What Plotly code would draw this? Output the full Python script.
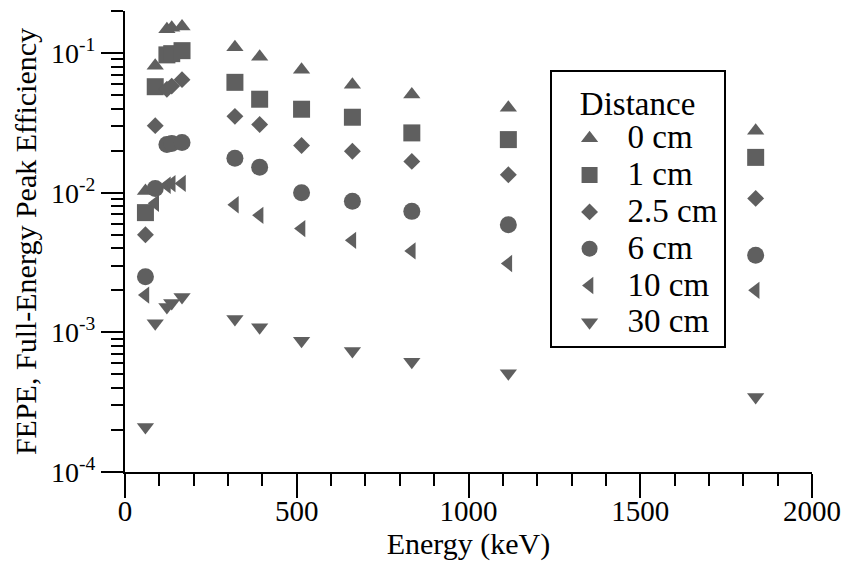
import plotly.graph_objects as go

# Energies (keV)
energy = [59.5, 88, 122, 136, 166, 320, 392, 514, 662, 835, 1116, 1836]

# Full-energy peak efficiency for each source-detector distance
fepe_0cm = [0.0103, 0.081, 0.148, 0.152, 0.155, 0.110, 0.094, 0.076, 0.0594, 0.0504, 0.0405, 0.0278]
fepe_1cm = [0.0072, 0.0574, 0.097, 0.099, 0.104, 0.0617, 0.0467, 0.0396, 0.0347, 0.0268, 0.0240, 0.0179]
fepe_2_5cm = [0.0050, 0.0302, 0.055, 0.058, 0.0645, 0.0352, 0.0308, 0.0218, 0.0198, 0.01675, 0.01345, 0.0091]
fepe_6cm = [0.0025, 0.0107, 0.0221, 0.0225, 0.0229, 0.01766, 0.01524, 0.0100, 0.00867, 0.00735, 0.0059, 0.00356]
fepe_10cm = [0.00185, 0.0084, 0.0113, 0.0116, 0.01165, 0.0082, 0.00689, 0.00553, 0.00456, 0.00383, 0.00311, 0.0020]
fepe_30cm = [0.00021, 0.00116, 0.00152, 0.00162, 0.00179, 0.001245, 0.001086, 0.00087, 0.000734, 0.000616, 0.000509, 0.000345]

series_names = ["0 cm", "1 cm", "2.5 cm", "6 cm", "10 cm", "30 cm"]
series_values = [fepe_0cm, fepe_1cm, fepe_2_5cm, fepe_6cm, fepe_10cm, fepe_30cm]
symbols = ["triangle-up", "square", "diamond", "circle", "triangle-left", "triangle-down"]
sizes = [15, 17, 13, 17, 15, 15]

y_tickvals = [1e-4, 1e-3, 1e-2, 1e-1]
y_ticktext = ["10<sup>-4</sup>", "10<sup>-3</sup>", "10<sup>-2</sup>", "10<sup>-1</sup>"]

MARK = "#5f5f5f"
FONT = "Liberation Serif"

fig = go.Figure()
for name, vals, sym, sz in zip(series_names, series_values, symbols, sizes):
    fig.add_trace(go.Scatter(
        x=energy, y=vals, mode="markers",
        name='<span style="font-size:33px">' + name + '</span>',
        marker=dict(symbol=sym, size=sz, color=MARK, line=dict(width=0)),
    ))

minor_vals = [k * 10.0 ** e for e in range(-4, 0) for k in range(2, 10)]

fig.update_layout(
    width=852, height=581,
    margin=dict(l=125, r=36, t=11, b=109),
    paper_bgcolor="white", plot_bgcolor="white",
    font=dict(family=FONT, size=28, color="black"),
    showlegend=True,
    legend=dict(
        x=0.618, y=0.872, xanchor="left", yanchor="top",
        bordercolor="black", borderwidth=2, bgcolor="white",
        font=dict(family=FONT, size=26, color="black"),
        itemwidth=66,
        title=dict(text="Distance", side="top center", font=dict(family=FONT, size=33)),
    ),
    xaxis=dict(
        range=[0, 2000], tickmode="linear", tick0=0, dtick=500,
        showline=True, linecolor="black", linewidth=2,
        ticks="outside", ticklen=24, tickwidth=2, tickcolor="black",
        ticklabelstandoff=-12,
        minor=dict(ticks="outside", ticklen=12, tickwidth=2, tickcolor="black", dtick=100, showgrid=False),
        showgrid=False, zeroline=False,
        title=dict(text="Energy (keV)", font=dict(size=30), standoff=4),
        tickfont=dict(size=29),
    ),
    yaxis=dict(
        type="log", range=[-4, -0.69897],
        tickmode="array", tickvals=y_tickvals, ticktext=y_ticktext,
        showline=True, linecolor="black", linewidth=2,
        ticks="outside", ticklen=22, tickwidth=2, tickcolor="black",
        minor=dict(ticks="outside", ticklen=12, tickwidth=2, tickcolor="black",
                   tickmode="array", tickvals=minor_vals, showgrid=False),
        showgrid=False, zeroline=False,
        title=dict(text="FEPE, Full-Energy Peak Efficiency", font=dict(size=30), standoff=6),
        tickfont=dict(size=28),
    ),
)

fig.write_html("out.html")
